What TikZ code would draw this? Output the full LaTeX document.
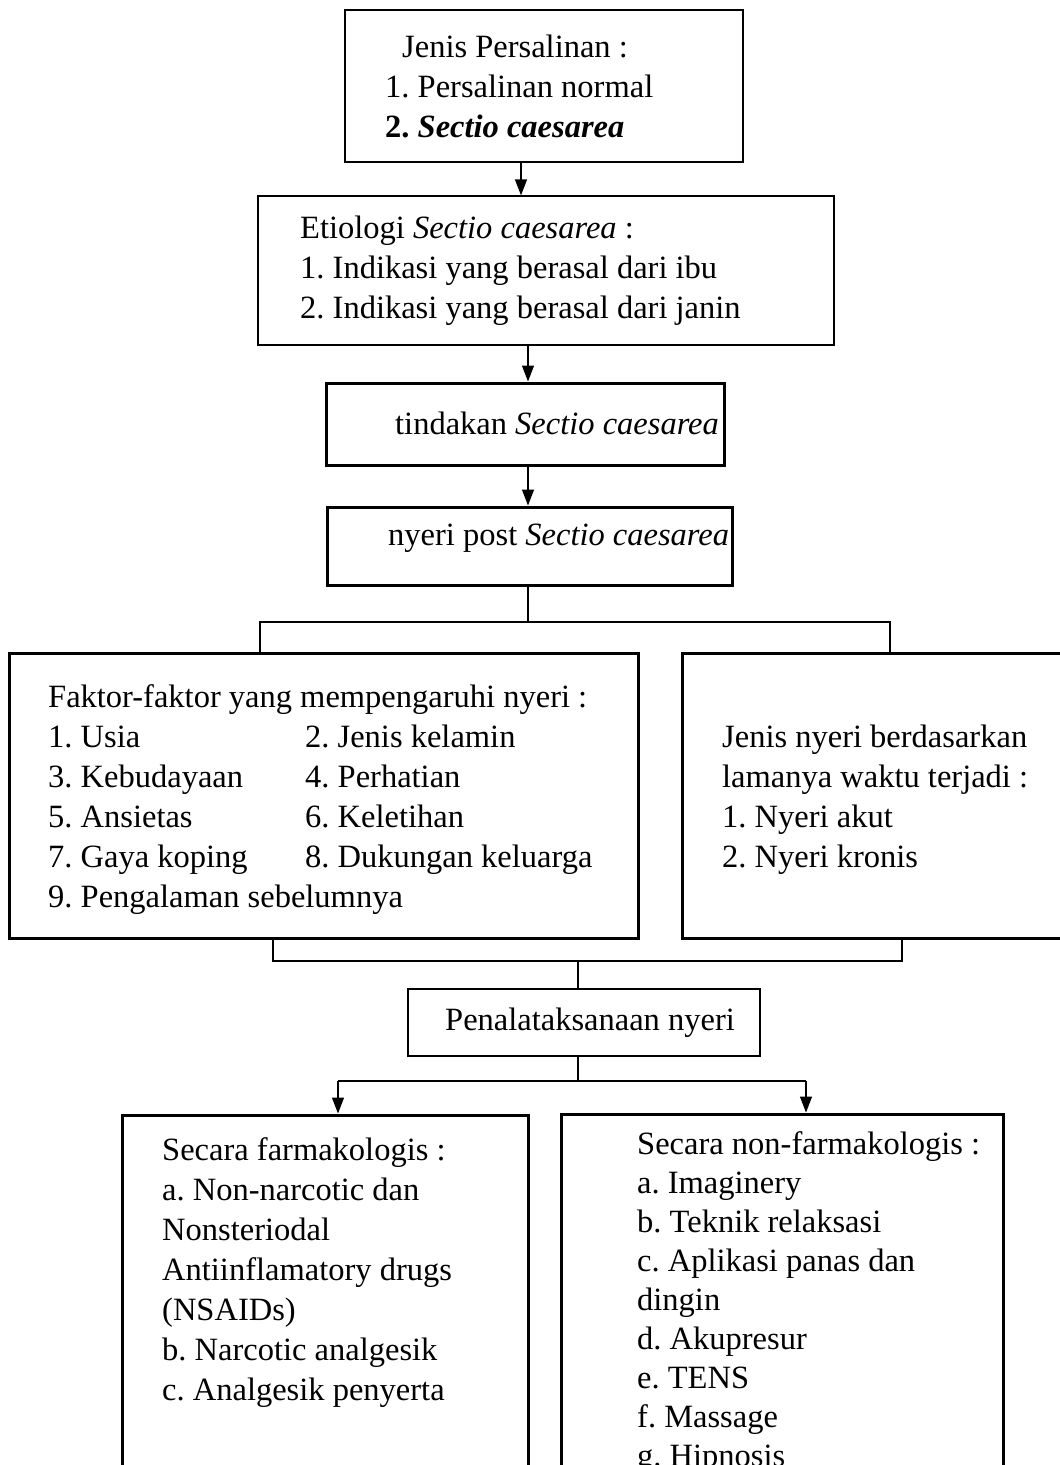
\documentclass[tikz,border=0pt]{standalone}
\usepackage{fontspec}
\setmainfont{Liberation Serif}
\usetikzlibrary{arrows.meta,calc,positioning}
\frenchspacing

\begin{document}
\begin{tikzpicture}[x=1pt, y=-1pt, >={Triangle[length=16pt,width=12pt]},
    thinbox/.style={draw, line width=1.3pt, inner sep=0pt},
    thickbox/.style={draw, line width=3pt, inner sep=0pt},
    txt/.style={anchor=north west, inner sep=0pt, align=left, font=\fontsize{32.5}{40}\selectfont},
    link/.style={line width=1.3pt}]
    \useasboundingbox (0,0) rectangle (1060,1465);
    \clip (0,0) rectangle (1060,1465);

    % boxes
    \node[thinbox, minimum width=398pt, minimum height=152pt] (jenis) at (544,86) {};
    \node[thinbox, minimum width=576pt, minimum height=149pt] (etio) at (546,270.5) {};
    \node[thickbox, minimum width=398pt, minimum height=82pt] (tind) at (525,424) {};
    \node[thickbox, minimum width=405pt, minimum height=78pt] (post) at (529.5,546) {};
    \node[thickbox, minimum width=629pt, minimum height=285pt] (faktor) at (323.5,795.5) {};
    \node[thickbox, minimum width=398pt, minimum height=285pt] (lama) at (881,795.5) {};
    \node[thinbox, minimum width=352pt, minimum height=67pt] (tata) at (584,1022.5) {};
    \node[thickbox, minimum width=406pt, minimum height=405pt] (farma) at (325,1317.5) {};
    \node[thickbox, minimum width=442pt, minimum height=406pt] (nonfarma) at (782,1317) {};

    % texts
    \node[txt] (jenisT) at (385,29) {\strut\hspace*{17pt}Jenis Persalinan :\\
      1. Persalinan normal\\
      \textbf{2. \textit{Sectio caesarea}}};
    \node[txt] (etioT) at (300,210) {\strut Etiologi \textit{Sectio caesarea} :\\
      1. Indikasi yang berasal dari ibu\\
      2. Indikasi yang berasal dari janin};
    \node[txt] (tindT) at (395,406) {\strut tindakan \textit{Sectio caesarea}};
    \node[txt] (postT) at (388,517) {\strut nyeri post \textit{Sectio caesarea}};
    \node[txt] (faktorT) at (48,679) {\strut Faktor-faktor yang mempengaruhi nyeri :\\
      \makebox[257pt][l]{1. Usia}2. Jenis kelamin\\
      \makebox[257pt][l]{3. Kebudayaan}4. Perhatian\\
      \makebox[257pt][l]{5. Ansietas}6. Keletihan\\
      \makebox[257pt][l]{7. Gaya koping}8. Dukungan keluarga\\
      9. Pengalaman sebelumnya};
    \node[txt] (lamaT) at (722,719) {\strut Jenis nyeri berdasarkan\\
      lamanya waktu terjadi :\\
      1. Nyeri akut\\
      2. Nyeri kronis};
    \node[txt] (tataT) at (445,1002) {\strut Penalataksanaan nyeri};
    \node[txt] (farmaT) at (162,1132) {\strut Secara farmakologis :\\
      a. Non-narcotic dan\\
      Nonsteriodal\\
      Antiinflamatory drugs\\
      (NSAIDs)\\
      b. Narcotic analgesik\\
      c. Analgesik penyerta};
    \node[txt, font=\fontsize{32.5}{39}\selectfont] (nonfarmaT) at (637,1127) {\strut Secara non-farmakologis :\\
      a. Imaginery\\
      b. Teknik relaksasi\\
      c. Aplikasi panas dan\\
      dingin\\
      d. Akupresur\\
      e. TENS\\
      f. Massage\\
      g. Hipnosis};

    % connectors
    \coordinate (c1) at (521,0);
    \coordinate (c2) at (528,0);
    \draw[link, ->] (jenis.south -| c1) -- (etio.north -| c1);
    \draw[link, ->] (etio.south -| c2) -- (tind.north -| c2);
    \draw[link, ->] (tind.south -| c2) -- (post.north -| c2);

    \coordinate (s1) at (528,622);
    \coordinate (s1L) at (260,622);
    \coordinate (s1R) at (890,622);
    \draw[link] (post.south -| s1) -- (s1);
    \draw[link] (faktor.north -| s1L) -- (s1L) -- (s1R) -- (lama.north -| s1R);

    \coordinate (s2L) at (273,961);
    \coordinate (s2M) at (578,961);
    \coordinate (s2R) at (902,961);
    \draw[link] (faktor.south -| s2L) -- (s2L) -- (s2R) -- (lama.south -| s2R);
    \draw[link] (s2M) -- (tata.north -| s2M);

    \coordinate (s3L) at (338,1081);
    \coordinate (s3M) at (578,1081);
    \coordinate (s3R) at (806,1081);
    \draw[link] (tata.south -| s3M) -- (s3M);
    \draw[link] (s3L) -- (s3R);
    \draw[link, ->] (s3L) -- (farma.north -| s3L);
    \draw[link, ->] (s3R) -- (nonfarma.north -| s3R);
\end{tikzpicture}
\end{document}
